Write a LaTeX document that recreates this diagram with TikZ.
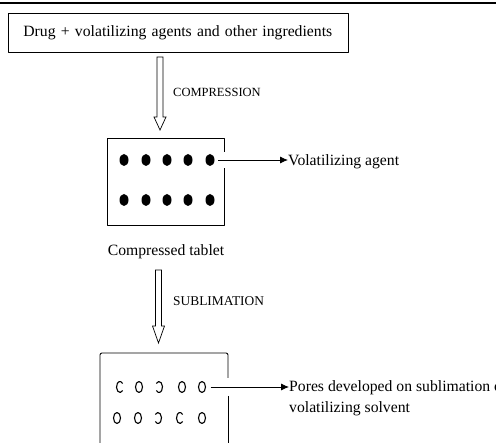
\documentclass[tikz,border=0pt]{standalone}
\usepackage{fontspec}
\setmainfont{Liberation Serif}
\usetikzlibrary{shapes.geometric,arrows.meta,calc}
\newcommand\hollowarrow[3]{%
  \draw[line width=.7pt,line join=miter] ($(#1)+(-3,0)$) -- ($(#2)+(-3,-#3)$)
    -- ($(#2)+(-6,-#3)$) -- (#2) -- ($(#2)+(6,-#3)$) -- ($(#2)+(3,-#3)$)
    -- ($(#1)+(3,0)$) -- cycle;}
\begin{document}
\begin{tikzpicture}[x=1pt,y=-1pt,line join=round,
  txt/.style={font=\fontsize{15.7}{19}\selectfont,inner sep=0pt},
  cap/.style={font=\fontsize{#1}{15}\selectfont,inner sep=0pt,anchor=base west},
  dot/.style={ellipse,fill,inner sep=0pt,minimum width=9pt,minimum height=12pt},
  pore/.style={ellipse,inner sep=0pt,minimum width=7pt,minimum height=11pt},
  tip/.style={-{Latex[length=8pt,width=7pt]},line width=.8pt}]
  \useasboundingbox (0,0) rectangle (496,443);
  \clip (0,0) rectangle (496,443);
  \draw[line width=2pt] (0,3.5) -- (496,3.5);
  \node[draw,line width=.8pt,anchor=north west,inner xsep=15pt,inner ysep=0pt,
    text width=310pt,minimum height=39pt,align=left,
    font=\fontsize{15.7}{19}\selectfont] (mix) at (8,13)
    {Drug + volatilizing agents and other ingredients};
  \coordinate (a1s) at (160,57);
  \coordinate (a1e) at (160,130);
  \hollowarrow{a1s}{a1e}{13}
  \node[cap=12.5] (comp) at (173,96.5) {COMPRESSION};
  \draw[line width=.8pt] (224,152) -- (224,138) -- (107,138) -- (107,225)
    -- (224,225) -- (224,168);
  \foreach \x [count=\i] in {124,146,167,188,210} {
    \node[dot] (d\i) at (\x,160) {};
    \node[dot] (e\i) at (\x,200) {};
  }
  \node[txt,anchor=base west] (vol) at (288,166) {Volatilizing agent};
  \draw[tip,shorten <=3.5pt] (d5) -- (d5 -| vol.west);
  \node[txt,anchor=base] (ctab) at (166,256) {Compressed tablet};
  \coordinate (a2s) at (158.5,270);
  \coordinate (a2e) at (158.5,343);
  \hollowarrow{a2s}{a2e}{17}
  \node[cap=13.4] (subl) at (173,305.5) {SUBLIMATION};
  \draw[line width=.9pt,rounded corners=2pt] (228,378) -- (228,353) -- (100,353)
    -- (100,450);
  \draw[line width=.9pt] (228,396) -- (228,450);
  \foreach \x/\y/\s/\e [count=\i] in {120/387/40/320,139/387/0/360,
      159/387/-140/140,182/387/0/360,202/387/0/360,117/418/0/360,
      138/418/0/360,158/418/-140/140,180/418/40/320,202/418/0/360} {
    \node[pore] (p\i) at (\x,\y) {};
    \draw[line width=1.1pt] ($(p\i)+(\s:3.5 and 5.5)$)
      arc[start angle=\s,end angle=\e,x radius=3.5,y radius=5.5];
  }
  \node[txt,anchor=base west] (pores) at (289,391.5)
    {Pores developed on sublimation of};
  \node[txt,anchor=base west] (pores2) at (289,412.5) {volatilizing solvent};
  \draw[tip,shorten <=5pt] (p5) -- (p5 -| pores.west);
\end{tikzpicture}
\end{document}
